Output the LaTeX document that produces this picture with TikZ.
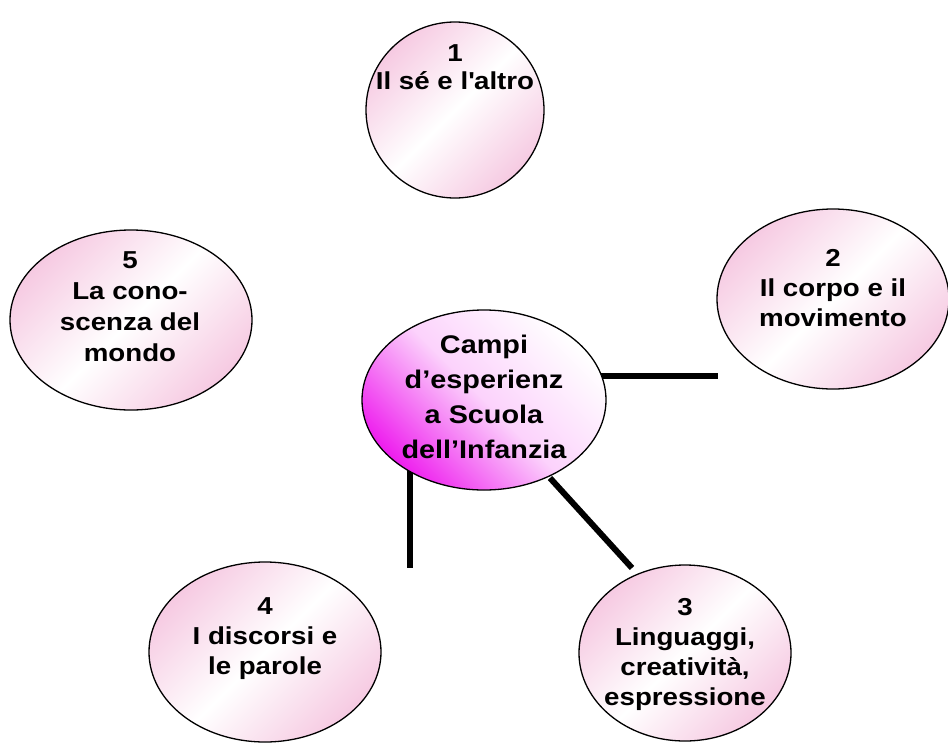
\documentclass[tikz,border=0pt]{standalone}
\usepackage{fontspec}
\setmainfont{Liberation Sans}[FakeStretch=1.13]
\usetikzlibrary{shapes.geometric}
\definecolor{pinkA}{RGB}{246,202,226}
\definecolor{magA}{RGB}{238,30,238}
\begin{document}
\begin{tikzpicture}[x=1pt,y=-1pt,
  bub/.style={ellipse, draw=black, line width=1.3pt, top color=pinkA, bottom color=pinkA, middle color=white, shading angle=45, inner sep=0pt},
  hub/.style={ellipse, draw=black, line width=1.3pt, top color=white, bottom color=magA, middle color=magA!20, shading angle=-45, inner sep=0pt},
  lbl/.style={align=center, font=\fontsize{24.5}{30}\selectfont\bfseries, inner sep=0pt, anchor=north},
  link/.style={line width=6pt}]
\useasboundingbox (0,0) rectangle (948,747);
% free ends of connectors
\coordinate (h1) at (590,376);
\coordinate (h2) at (718,376);
\coordinate (v1) at (410,470);
\coordinate (v2) at (410,568);
\coordinate (d1) at (550,478);
\coordinate (d2) at (632,568);
\draw[link] (h1) -- (h2);
\draw[link] (v1) -- (v2);
\draw[link] (d1) -- (d2);
% ellipses
\node[bub, minimum width=178pt, minimum height=176pt] (e1) at (455,110) {};
\node[bub, minimum width=242pt, minimum height=180pt] (e5) at (131,320) {};
\node[bub, minimum width=232pt, minimum height=180pt] (e2) at (833,299) {};
\node[hub, minimum width=244pt, minimum height=180pt] (ec) at (484,400) {};
\node[bub, minimum width=212pt, minimum height=176pt] (e3) at (685,653) {};
\node[bub, minimum width=232pt, minimum height=180pt] (e4) at (265,652) {};
% texts
\node[lbl, font=\fontsize{24.5}{28}\selectfont\bfseries] (t1) at (455,44) {1\\Il sé e l\textquotesingle altro};
\node[lbl, font=\fontsize{24.5}{31}\selectfont\bfseries] (t5) at (130,251) {5\\La cono-\\scenza del\\mondo};
\node[lbl] (t2) at (833,249) {2\\Il corpo e il\\movimento};
\node[lbl, font=\fontsize{25.5}{35}\selectfont\bfseries] (tc) at (484,335) {Campi\\d’esperienz\\a Scuola\\dell’Infanzia};
\node[lbl] (t3) at (685,598) {3\\Linguaggi,\\creatività,\\espressione};
\node[lbl] (t4) at (265,597) {4\\I discorsi e\\le parole};
\end{tikzpicture}
\end{document}
